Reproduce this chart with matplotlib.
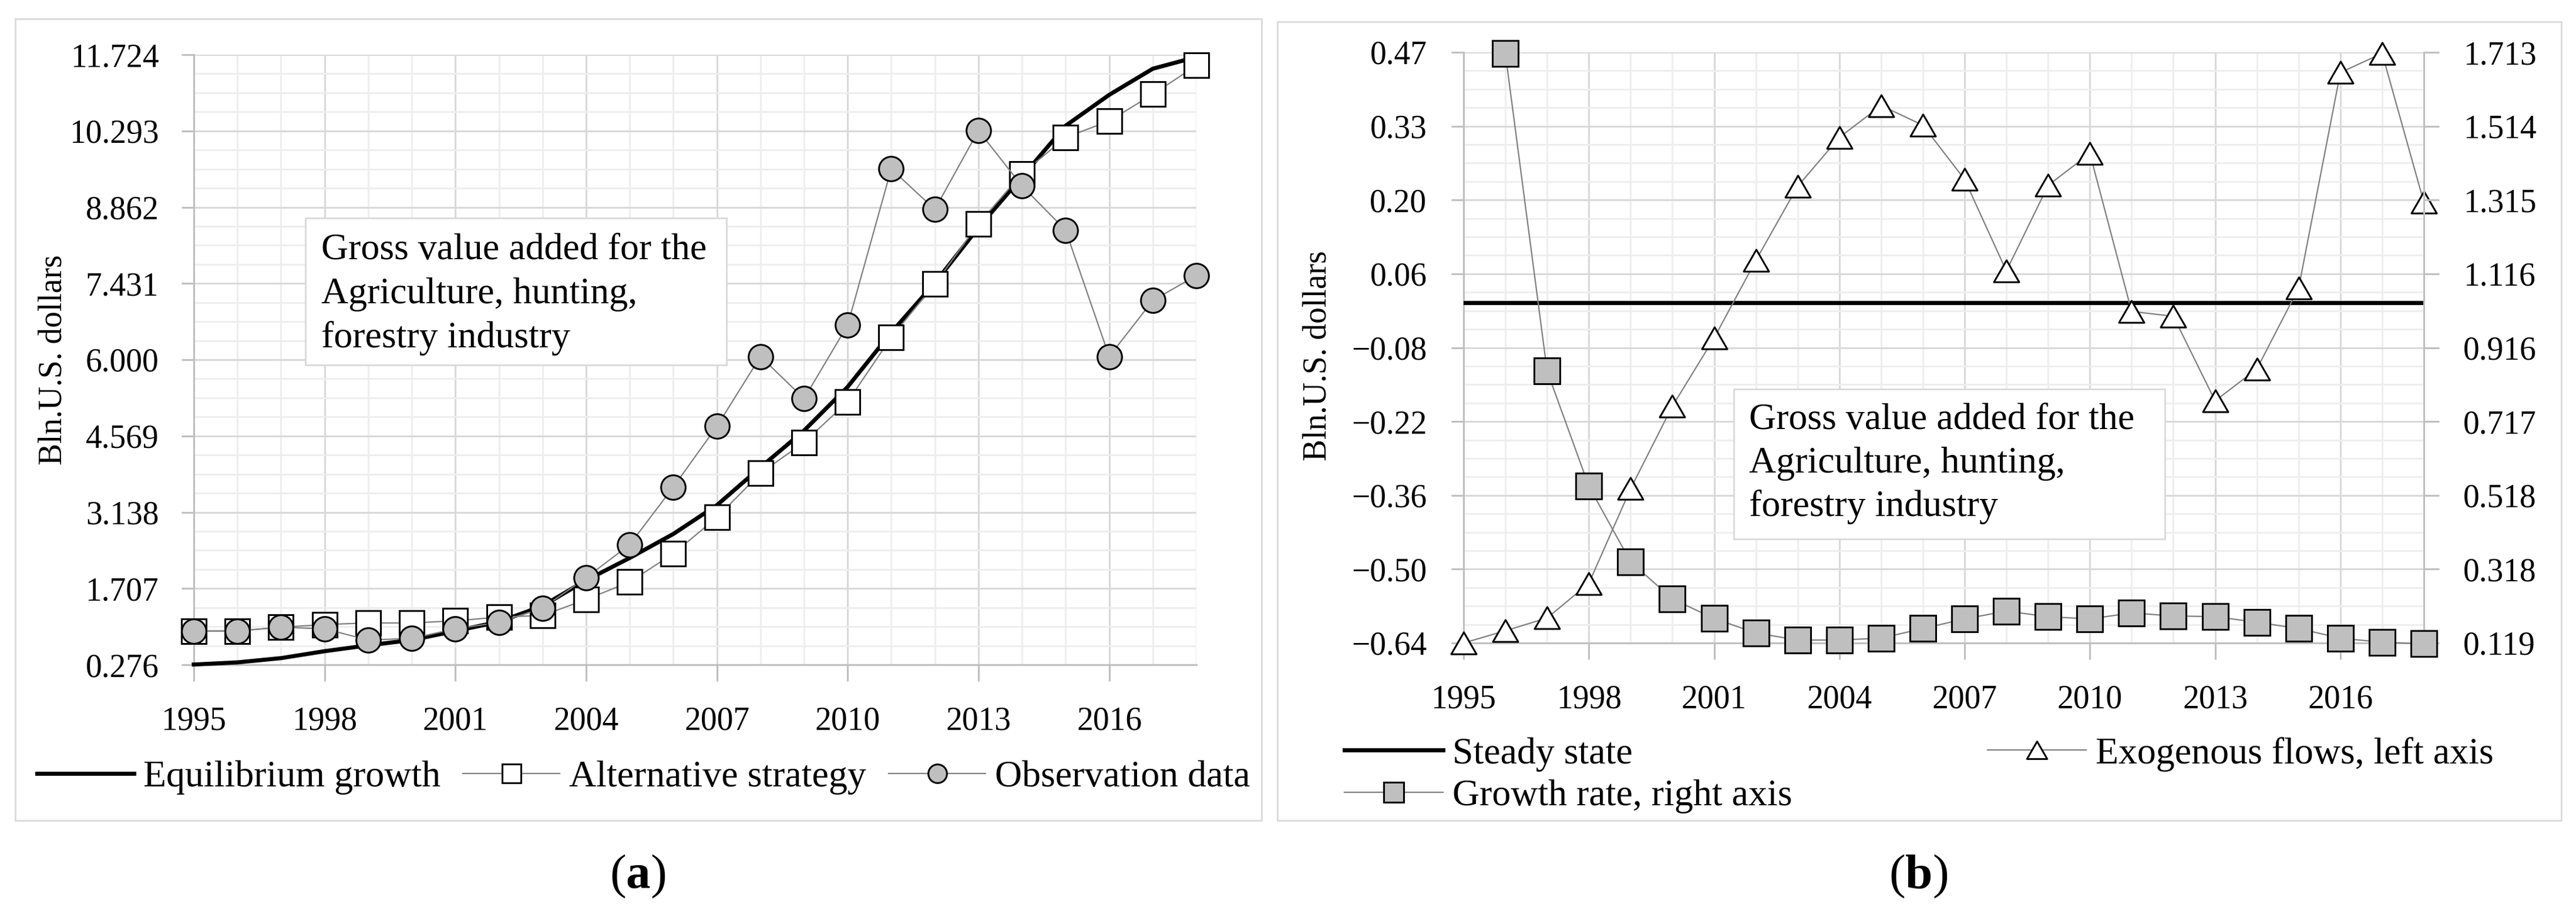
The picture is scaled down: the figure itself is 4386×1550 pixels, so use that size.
import matplotlib
matplotlib.use('Agg')
import matplotlib.pyplot as plt
import numpy as np
from matplotlib.patches import Rectangle
from matplotlib.path import Path

plt.rcParams['font.family'] = ['Liberation Serif', 'DejaVu Serif']
plt.rcParams['mathtext.fontset'] = 'custom'
plt.rcParams['mathtext.rm'] = 'Liberation Serif'
plt.rcParams['mathtext.bf'] = 'Liberation Serif:bold'

# ---------------- data ----------------
years = np.arange(1995, 2019)
label_years = [1995, 1998, 2001, 2004, 2007, 2010, 2013, 2016]

# panel (a)
equilibrium = [0.28, 0.32, 0.40, 0.53, 0.64, 0.74, 0.91, 1.08, 1.38, 1.86, 2.28, 2.73,
               3.27, 3.98, 4.67, 5.49, 6.51, 7.44, 8.48, 9.43, 10.39, 10.97, 11.46, 11.68]
alternative = [0.91, 0.91, 0.98, 1.03, 1.06, 1.06, 1.10, 1.17, 1.20, 1.50, 1.83, 2.36,
               3.04, 3.87, 4.45, 5.21, 6.42, 7.42, 8.55, 9.49, 10.17, 10.48, 10.98, 11.52]
observation = [0.905, 0.91, 0.98, 0.95, 0.74, 0.77, 0.95, 1.07, 1.34, 1.91, 2.53, 3.61,
               4.75, 6.06, 5.27, 6.65, 9.58, 8.82, 10.30, 9.26, 8.43, 6.06, 7.11, 7.58]
yticks_a = ['0.276', '1.707', '3.138', '4.569', '6.000', '7.431', '8.862', '10.293', '11.724']

# panel (b)
steady_state = [0.0, 0.0, 0.0, 0.0, 0.0, 0.0, 0.0, 0.0, 0.0, 0.0, 0.0, 0.0,
                0.0, 0.0, 0.0, 0.0, 0.0, 0.0, 0.0, 0.0, 0.0, 0.0, 0.0, 0.0]
exogenous = [-0.640, -0.617, -0.593, -0.528, -0.350, -0.195, -0.067, 0.079, 0.218, 0.310,
             0.370, 0.333, 0.231, 0.059, 0.220, 0.280, -0.017, -0.026, -0.185, -0.125,
             0.027, 0.432, 0.468, 0.188]
growth_years = np.arange(1996, 2019)
growth = [1.710, 0.853, 0.542, 0.338, 0.238, 0.185, 0.146, 0.127, 0.127, 0.132, 0.158,
          0.184, 0.205, 0.190, 0.184, 0.200, 0.192, 0.190, 0.175, 0.158, 0.132, 0.121, 0.117]
yticks_b_left = ['−0.64', '−0.50', '−0.36', '−0.22', '−0.08', '0.06', '0.20', '0.33', '0.47']
yticks_b_right = ['0.119', '0.318', '0.518', '0.717', '0.916', '1.116', '1.315', '1.514', '1.713']

box_text = ['Gross value added for the', 'Agriculture, hunting,', 'forestry industry']

# ---------------- layout helpers ----------------
W, H = 4386, 1550
fig = plt.figure(figsize=(W / 100, H / 100), dpi=100)

def fx(x):
    return x / W

def fy(y):
    return 1 - y / H

def add_axes(x0, y0, x1, y1):
    return fig.add_axes([fx(x0), fy(y1), (x1 - x0) / W, (y1 - y0) / H])

def frame(x0, y0, x1, y1, face='none', lw=2.0):
    fig.patches.append(Rectangle((fx(x0), fy(y1)), (x1 - x0) / W, (y1 - y0) / H,
                                 transform=fig.transFigure, facecolor=face,
                                 edgecolor='#d9d9d9', lw=lw, zorder=1))

GRID_MAJ = '#d9d9d9'
GRID_MIN = '#eeeeee'
AXIS_COL = '#bfbfbf'
LINE_GRAY = '#7f7f7f'
FILL_GRAY = '#bfbfbf'

tri = Path([(-1, -0.866), (1, -0.866), (0, 0.866), (0, 0)],
           [Path.MOVETO, Path.LINETO, Path.LINETO, Path.CLOSEPOLY])

def style(ax, lo, hi, labels, ypad):
    ax.patch.set_facecolor('none')
    ax.set_xlim(1995, 2018)
    ax.set_ylim(lo, hi)
    ax.set_xticks(label_years)
    ax.set_xticklabels([str(y) for y in label_years])
    ax.set_xticks(years, minor=True)
    ax.set_yticks(np.linspace(lo, hi, len(labels)))
    ax.set_yticklabels(labels)
    ax.set_yticks(np.linspace(lo, hi, 4 * (len(labels) - 1) + 1), minor=True)
    ax.grid(which='major', color=GRID_MAJ, lw=2.2)
    ax.grid(which='minor', color=GRID_MIN, lw=2.2)
    ax.set_axisbelow(True)
    ax.tick_params(which='minor', length=0)
    ax.tick_params(axis='x', which='major', length=20, width=2.2, color=AXIS_COL,
                   labelsize=40, pad=31)
    ax.tick_params(axis='y', which='major', length=15, width=2.2, color=AXIS_COL,
                   labelsize=40, pad=ypad)
    for s in ['top', 'right']:
        ax.spines[s].set_visible(False)
    for s in ['left', 'bottom']:
        ax.spines[s].set_color(AXIS_COL)
        ax.spines[s].set_linewidth(2.2)

# ---------------- panel (a) ----------------
frame(26, 32, 2148, 1396)
ax_a = add_axes(330, 93, 2037, 1131)
style(ax_a, 0.276, 11.724, yticks_a, 28)

ax_a.plot(years, equilibrium, color='black', lw=5, zorder=3, clip_on=False,
          label='Equilibrium growth')
ax_a.plot(years, alternative, color=LINE_GRAY, lw=1.6, marker='s', ms=30,
          mfc='white', mec='black', mew=2.2, zorder=4, clip_on=False,
          label='Alternative strategy')
ax_a.plot(years, observation, color=LINE_GRAY, lw=1.6, marker='o', ms=30,
          mfc=FILL_GRAY, mec='black', mew=2.2, zorder=5, clip_on=False,
          label='Observation data')

ax_a.legend(loc='center left', bbox_to_anchor=(fx(63), fy(1323)),
            bbox_transform=fig.transFigure, ncol=3, frameon=False, fontsize=46,
            borderpad=0, borderaxespad=0, handlelength=2.58, handletextpad=0.25,
            columnspacing=0.6, numpoints=1, markerscale=0.76)

fig.text(fx(91), fy(612), 'Bln.U.S. dollars', rotation=90, ha='center', va='center',
         fontsize=40)

frame(520, 371, 1237, 621, face='white')
for i, line in enumerate(box_text):
    fig.text(fx(547), fy(441 + 75 * i), line, fontsize=46, va='baseline', zorder=3)

fig.text(fx(1086), fy(1491), '($\\mathbf{a}$)', ha='center', va='center', fontsize=60)

# ---------------- panel (b) ----------------
frame(2175, 37, 4361, 1396)
ax_b = add_axes(2492, 89, 4127, 1094)
style(ax_b, -0.64, 0.47, yticks_b_left, 30)

ax_b.plot(years, steady_state, color='black', lw=5, zorder=3, label='Steady state')
ax_b.plot(years, exogenous, color=LINE_GRAY, lw=1.6, marker=tri, ms=31,
          mfc='white', mec='black', mew=2.2, zorder=4, clip_on=False,
          label='Exogenous flows, left axis')

ax_r = ax_b.twinx()
ax_r.patch.set_facecolor('none')
ax_r.set_ylim(0.119, 1.713)
ax_r.set_yticks(np.linspace(0.119, 1.713, len(yticks_b_right)))
ax_r.set_yticklabels(yticks_b_right)
ax_r.tick_params(axis='y', length=19, width=2.2, color=AXIS_COL, labelsize=40, pad=29)
for s in ['top', 'left', 'bottom']:
    ax_r.spines[s].set_visible(False)
ax_r.spines['right'].set_color(AXIS_COL)
ax_r.spines['right'].set_linewidth(2.2)
ax_r.plot(growth_years, growth, color=LINE_GRAY, lw=1.6, marker='s', ms=31,
          mfc=FILL_GRAY, mec='black', mew=2.2, zorder=4, clip_on=False,
          label='Growth rate, right axis')

h1, l1 = ax_b.get_legend_handles_labels()
h2, l2 = ax_r.get_legend_handles_labels()
handles = [h1[0], h2[0], h1[1]]
labels = [l1[0], l2[0], l1[1]]
ax_r.legend(handles, labels, loc='center left', bbox_to_anchor=(fx(2289), fy(1319)),
            bbox_transform=fig.transFigure, ncol=2, frameon=False, fontsize=46,
            borderpad=0, borderaxespad=0, handlelength=2.63, handletextpad=0.25,
            columnspacing=5.2, labelspacing=0.2, numpoints=1, markerscale=0.8)

fig.text(fx(2243), fy(605), 'Bln.U.S. dollars', rotation=90, ha='center', va='center',
         fontsize=40)

frame(2952, 662, 3686, 917, face='white')
for i, line in enumerate(box_text):
    fig.text(fx(2978), fy(730 + 74 * i), line, fontsize=46, va='baseline', zorder=3)

fig.text(fx(3266), fy(1491), '($\\mathbf{b}$)', ha='center', va='center', fontsize=60)

fig.savefig('out.png', dpi=100, facecolor='white')
